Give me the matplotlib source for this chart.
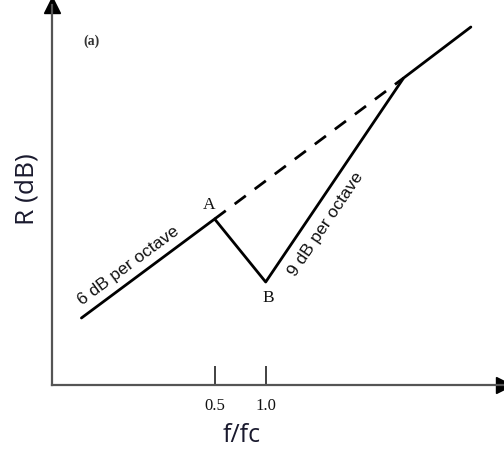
import matplotlib
matplotlib.use("Agg")
import matplotlib.pyplot as plt

# f/fc positions (log2 scale) and R values (arbitrary dB units)
seg_f = [0.082, 0.5, 1.0, 6.5, 16.2]
seg_R = [13.4, 33.2, 20.6, 61.4, 71.6]
dash_f = [0.5, 6.5]
dash_R = [33.2, 61.4]
tick_vals = [0.5, 1.0]
tick_labels = ["0.5", "1.0"]
xlim = (0.055, 25.4)
ylim = (0, 76)

fig = plt.figure(figsize=(5.04, 4.5), dpi=100)
ax = fig.add_axes([52/504, 65/450, 452/504, 380/450])
ax.set_xscale("log", base=2)
ax.set_xlim(*xlim)
ax.set_ylim(*ylim)
for s in ["top", "right"]:
    ax.spines[s].set_visible(False)
for s in ["left", "bottom"]:
    ax.spines[s].set_color("#555555")
    ax.spines[s].set_linewidth(1.6)

# arrow heads
ax.plot([0], [1], marker="^", color="black", markersize=11, transform=ax.transAxes, clip_on=False)
ax.plot([1], [0], marker=">", color="black", markersize=11, transform=ax.transAxes, clip_on=False)

ax.plot(seg_f, seg_R, color="black", lw=2.0, solid_capstyle="round")
ax.plot(dash_f, dash_R, color="black", lw=2.0, dashes=(5, 4))

ax.set_yticks([])
ax.set_xticks(tick_vals)
ax.set_xticklabels(tick_labels, fontfamily="Liberation Serif", fontsize=12, color="#111111")
ax.xaxis.set_minor_locator(matplotlib.ticker.NullLocator())
ax.tick_params(axis="x", direction="in", length=14, width=1.3, color="#333333", pad=9)

fig.text(242/504, 1 - 436/450, "f/fc", ha="center", va="center",
         fontfamily="Open Sans", fontsize=18, color="#1a1a2e")
fig.text(27/504, 1 - 189/450, "R (dB)", rotation=90, ha="center", va="center",
         fontfamily="Open Sans", fontsize=19, color="#1a1a2e")

fig.text(92/504, 1 - 41/450, "(a)", ha="center", va="center",
         fontfamily="Liberation Serif", fontsize=10, fontweight="bold", color="#333333")
fig.text(209/504, 1 - 205/450, "A", ha="center", va="center",
         fontfamily="Liberation Serif", fontsize=12.5, color="#111111")
fig.text(268/504, 1 - 298/450, "B", ha="center", va="center",
         fontfamily="Liberation Serif", fontsize=12.5, color="#111111")
fig.text(128/504, 1 - 266/450, "6 dB per octave", ha="center", va="center", rotation=36.5,
         fontfamily="Liberation Sans", fontsize=12.5, color="#111111")
fig.text(326/504, 1 - 224/450, "9 dB per octave", ha="center", va="center", rotation=56,
         fontfamily="Liberation Sans", fontsize=12.5, color="#111111")

fig.savefig("out.png", dpi=100)
